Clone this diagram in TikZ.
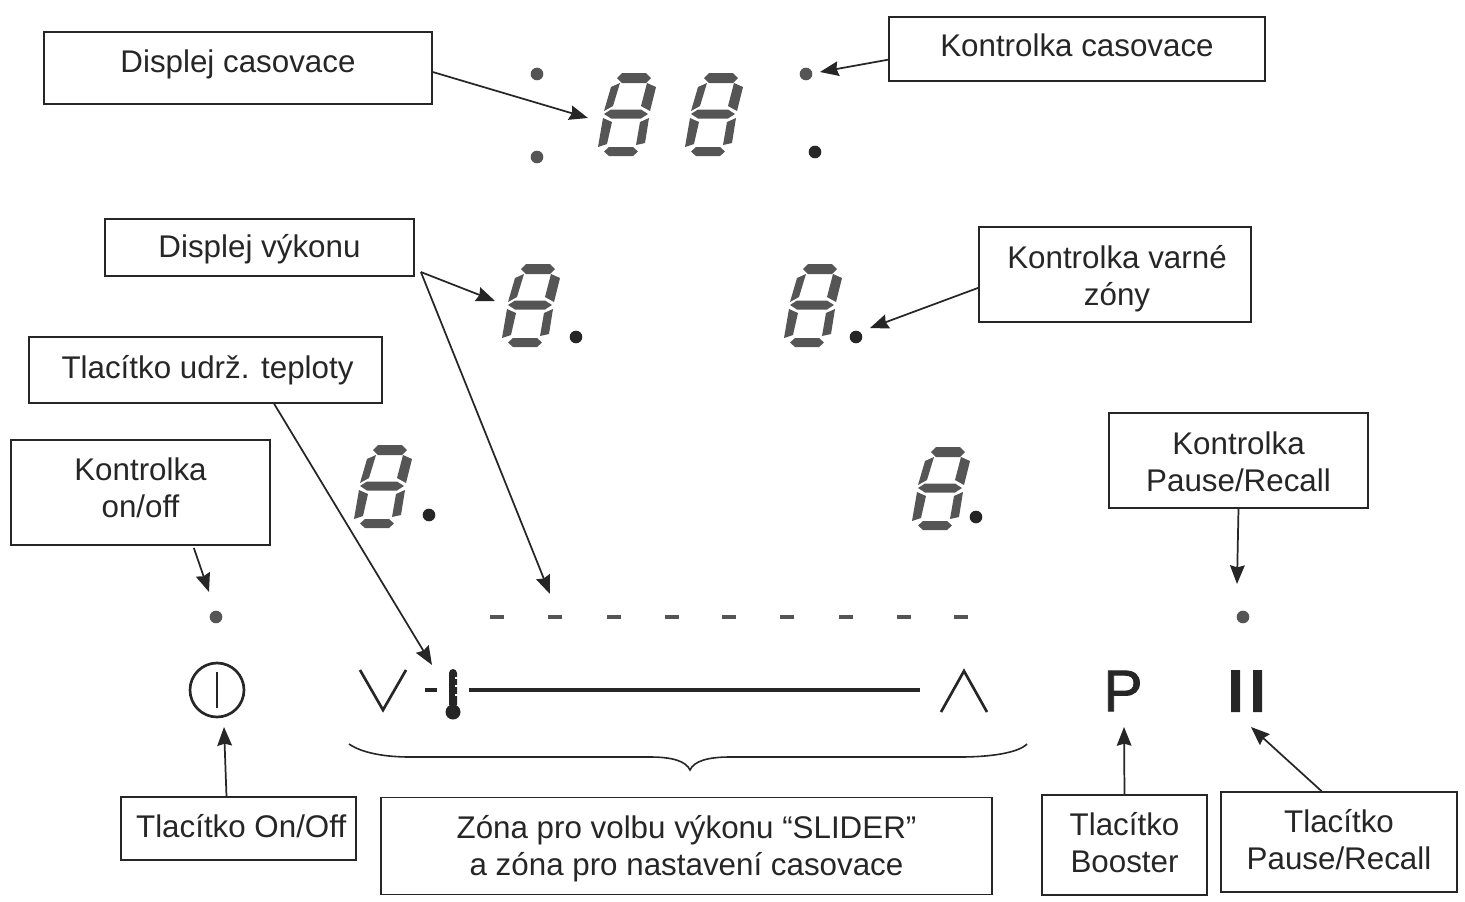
\documentclass[tikz,border=0pt]{standalone}
\usepackage{fontspec}
\setmainfont{Liberation Sans}
\usetikzlibrary{arrows.meta}
\definecolor{segcol}{HTML}{555555}
\definecolor{inkcol}{HTML}{262626}
\newcommand\boxtext[2]{\raisebox{#1}[0pt][0pt]{\begin{tabular}{@{}c@{}}#2\end{tabular}}}
\tikzset{every picture/.style={line width=0.75pt}}
\tikzset{
  box/.style={draw=inkcol,line width=1.1pt,fill=white,text=inkcol,inner sep=0pt,font=\fontsize{23.5}{27.5}\selectfont},
  arr/.style={draw=inkcol,line width=1.3pt,-{Stealth[length=14pt,width=11pt,inset=1.5pt]}},
  dotgray/.style={circle,fill=segcol,minimum size=9.5pt,inner sep=0pt},
  dotdark/.style={circle,fill=inkcol,minimum size=9.5pt,inner sep=0pt},
  dashseg/.style={fill=segcol,minimum width=10.5pt,minimum height=2.8pt,inner sep=0pt},
  icon/.style={draw=inkcol,line width=2pt},
  segdigit/.pic={
    \fill[segcol,yscale=-1] (-12,-36) -- (-7,-41) -- (17,-41) -- (22,-36) -- (17,-31) -- (-7,-31) -- cycle
      (-25,0) -- (-18,-4.5) -- (12,-4.5) -- (19,0) -- (12,4.5) -- (-18,4.5) -- cycle
      (-25,37.5) -- (-20,33) -- (4,33) -- (9,37.5) -- (4,42) -- (-20,42) -- cycle
      (-9,-31) -- (-18,-27) -- (-25,-3) -- (-16,-8) -- cycle
      (18,-31) -- (27,-27) -- (21,-3) -- (12,-8) -- cycle
      (-26,4) -- (-17,8) -- (-22,30) -- (-31,33) -- cycle
      (20,4) -- (11,8) -- (7,31) -- (16,29) -- cycle;
  }
}

\begin{document}
\begin{tikzpicture}[x=0.75pt,y=0.75pt,yscale=-1,xscale=1]
\useasboundingbox (0,0) rectangle (1465,901);

% boxes
\node [box,minimum width=291pt,minimum height=54pt] (dispcas) at (238,68) {\boxtext{-4.3pt}{Displej casovace}};
\node [box,minimum width=282pt,minimum height=48pt] (kontcas) at (1077,49) {\boxtext{-6.5pt}{Kontrolka casovace}};
\node [box,minimum width=232pt,minimum height=43pt] (dispvyk) at (259.5,247.5) {\boxtext{-8.4pt}{Displej výkonu}};
\node [box,minimum width=204pt,minimum height=71pt] (kontzon) at (1115,274.5) {\hspace*{3pt}\boxtext{-10.3pt}{Kontrolka varné\\zóny}};
\node [box,minimum width=265pt,minimum height=49.5pt] (tlacudr) at (205.5,370) {\hspace*{3pt}\boxtext{-7.3pt}{Tlacítko udrž. teploty}};
\node [box,minimum width=194pt,minimum height=79pt] (kontoo) at (140.5,492.5) {\boxtext{-5.4pt}{Kontrolka\\on/off}};
\node [box,minimum width=194pt,minimum height=71pt] (kontpr) at (1238.5,460.5) {\boxtext{-9.9pt}{Kontrolka\\Pause/Recall}};
\node [box,minimum width=176pt,minimum height=47pt] (tlacoo) at (238.5,828.5) {\hspace*{4pt}\boxtext{-7.7pt}{Tlacítko On/Off}};
\node [box,minimum width=458pt,minimum height=73pt] (zona) at (686.5,846) {\boxtext{-9.2pt}{Zóna pro volbu výkonu “SLIDER”\\a zóna pro nastavení casovace}};
\node [box,minimum width=124pt,minimum height=75pt] (tlacboo) at (1124.5,845) {\boxtext{-7.7pt}{Tlacítko\\Booster}};
\node [box,minimum width=177pt,minimum height=75pt] (tlacpr) at (1339,842) {\boxtext{-7.3pt}{Tlacítko\\Pause/Recall}};

% displays
\pic at (629,114) {segdigit};
\pic at (716,114) {segdigit};
\pic at (533,305) {segdigit};
\pic at (815,305) {segdigit};
\pic at (385,486) {segdigit};
\pic at (943,488) {segdigit};

% dots
\node [dotgray] (d1) at (537,74) {};
\node [dotgray] (d2) at (537,157) {};
\node [dotgray] (d3) at (806,74) {};
\node [dotdark] (d4) at (815,152) {};
\node [dotdark] (d5) at (576,337) {};
\node [dotdark] (d6) at (856,337) {};
\node [dotdark] (d7) at (429,515) {};
\node [dotdark] (d8) at (976,517) {};
\node [dotgray] (d9) at (216,617) {};
\node [dotgray] (d10) at (1243,617) {};

% slider
\foreach \x in {497,555,614,672,729,787,846,904,961}
  \node [dashseg] at (\x,617) {};
\node [fill=inkcol,minimum width=9pt,minimum height=3pt,inner sep=0pt] (minus) at (431,690) {};
\draw [inkcol,line width=3.2pt] (469,690) -- (920,690);
\draw [icon] (360,670) -- (383,710) -- (406,670);
\draw [icon] (941,712) -- (964,671) -- (987,712);
\fill [inkcol] (449,673) arc [start angle=180,end angle=360,radius=4] -- (457,705) -- (449,705) -- cycle;
\fill [inkcol] (453,712) circle [radius=7.5];
\foreach \y in {678,686,695} \draw [white,line width=1.4pt] (455,\y) -- (458,\y);
\draw [icon] (217,690) circle [radius=27];
\draw [inkcol,line width=2pt] (217,672) -- (217,708);
\node [text=inkcol,inner sep=0pt,font=\fontsize{44}{44}\selectfont\addfontfeature{FakeBold=1.5}] (pbtn) at (1123,691) {P};
\fill [inkcol] (1231,670) rectangle (1240,712) (1253,670) rectangle (1262,712);
\draw [inkcol,line width=1.2pt] (349,744) .. controls (362,753) and (385,757) .. (410,757) -- (650,757) .. controls (672,757) and (686,761) .. (690,770) .. controls (694,761) and (708,757) .. (730,757) -- (960,757) .. controls (990,757) and (1018,753) .. (1027,744);

% free ends
\coordinate (e1) at (588,118);
\coordinate (e2) at (495,301);
\coordinate (e3) at (550,594);
\coordinate (e4) at (432,665);
\coordinate (e5) at (1237,584);
\coordinate (e6) at (224,727);
\coordinate (e7) at (1124,727);
\coordinate (e8) at (1251,727);
\coordinate (e9) at (209,592);
\coordinate (e10) at (820,72);
\coordinate (e11) at (870,328);

% arrows
\draw [arr] ([yshift=3pt]dispcas.east) -- (e1);
\draw [arr] ([yshift=8pt]kontcas.west) -- (e10);
\draw [arr] ([xshift=4.5pt,yshift=18.4pt]dispvyk.east) -- (e2);
\draw [arr] ([xshift=4.5pt,yshift=18.4pt]dispvyk.east) -- (e3);
\draw [arr] ([yshift=10pt]kontzon.west) -- (e11);
\draw [arr] ([xshift=184.5pt]tlacudr.south west) -- (e4);
\draw [arr] ([xshift=40pt,yshift=1.5pt]kontoo.south) -- (e9);
\draw [arr] (kontpr.south) -- (e5);
\draw [arr] ([xshift=-9pt]tlacoo.north) -- (e6);
\draw [arr] (tlacboo.north) -- (e7);
\draw [arr] ([xshift=-13pt]tlacpr.north) -- (e8);

\end{tikzpicture}
\end{document}
